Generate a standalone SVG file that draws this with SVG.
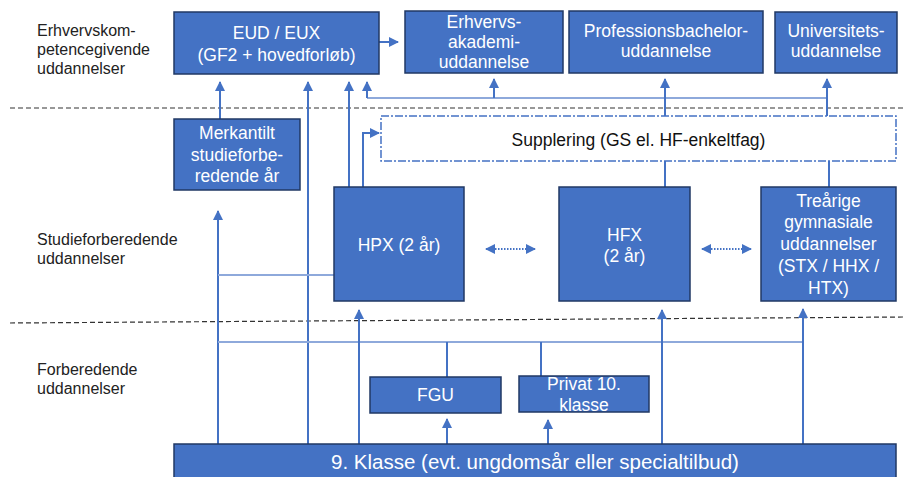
<svg xmlns="http://www.w3.org/2000/svg" width="904" height="477" viewBox="0 0 904 477">
<defs>
<marker id="ah" viewBox="0 0 10 10" refX="9" refY="5" markerWidth="10" markerHeight="10" markerUnits="userSpaceOnUse" orient="auto">
<path d="M0,0 L10,5 L0,10 Z" fill="#4472C4"/>
</marker>
<marker id="ahs" viewBox="0 0 10 10" refX="9" refY="5" markerWidth="10" markerHeight="10" markerUnits="userSpaceOnUse" orient="auto-start-reverse">
<path d="M0,0 L10,5 L0,10 Z" fill="#4472C4"/>
</marker>
<style>
.box{fill:#4472C4;stroke:#203864;stroke-width:1.5}
.bt{font-family:"Liberation Sans",Arial,sans-serif;font-size:17.5px;fill:#fff;text-anchor:middle}
.lbl{font-family:"Liberation Sans",Arial,sans-serif;font-size:16px;fill:#222}
.sep{stroke:#333;stroke-width:1.2;stroke-dasharray:5 3;fill:none}
.ln{stroke:#4472C4;stroke-width:2;fill:none}
.lt{stroke:#8EA9DB;stroke-width:2;fill:none}
.arr{stroke:#4472C4;stroke-width:2;fill:none;marker-end:url(#ah)}
.dbl{stroke:#4472C4;stroke-width:2;stroke-dasharray:1.5 1.5;fill:none;marker-start:url(#ahs);marker-end:url(#ahs)}
</style>
</defs>
<rect width="904" height="477" fill="#fff"/>

<g id="separators">
<line class="sep" x1="10" y1="108" x2="904" y2="108"/>
<line class="sep" x1="10" y1="323" x2="904" y2="317"/>
</g>

<g id="labels">
<text class="lbl" x="37" y="36">Erhvervskom-</text>
<text class="lbl" x="37" y="55">petencegivende</text>
<text class="lbl" x="37" y="74">uddannelser</text>
<text class="lbl" x="37" y="245">Studieforberedende</text>
<text class="lbl" x="37" y="264">uddannelser</text>
<text class="lbl" x="37" y="375">Forberedende</text>
<text class="lbl" x="37" y="394">uddannelser</text>
</g>

<g id="connectors">
<line class="arr" x1="379" y1="42" x2="398" y2="42"/>
<line class="arr" x1="220" y1="119" x2="220" y2="82"/>
<line class="arr" x1="308" y1="444" x2="308" y2="82"/>
<line class="arr" x1="349" y1="187" x2="349" y2="82"/>
<polyline class="lt" points="367,98 827,98"/>
<line class="arr" x1="367" y1="98" x2="367" y2="82"/>
<line class="arr" x1="494" y1="98" x2="494" y2="79"/>
<line class="arr" x1="665" y1="116" x2="665" y2="79"/>
<line class="arr" x1="827" y1="116" x2="827" y2="79"/>
<polyline class="arr" points="363,187 363,133 379,133"/>
<line class="ln" x1="665" y1="187" x2="665" y2="161"/>
<line class="ln" x1="829" y1="187" x2="829" y2="161"/>
<line class="dbl" x1="486" y1="249" x2="535" y2="249"/>
<line class="dbl" x1="702" y1="249" x2="751" y2="249"/>
<line class="arr" x1="218" y1="444" x2="218" y2="211"/>
<line class="lt" x1="218" y1="275" x2="334" y2="275"/>
<line class="lt" x1="218" y1="342" x2="803" y2="342"/>
<line class="ln" x1="447" y1="377" x2="447" y2="342"/>
<line class="ln" x1="541" y1="376" x2="541" y2="342"/>
<line class="arr" x1="803" y1="444" x2="803" y2="309"/>
<line class="arr" x1="359" y1="444" x2="359" y2="310"/>
<line class="arr" x1="662" y1="444" x2="662" y2="310"/>
<line class="arr" x1="447" y1="444" x2="447" y2="419"/>
<line class="arr" x1="548" y1="444" x2="548" y2="420"/>
</g>

<g id="eud">
<rect class="box" x="174" y="12" width="205" height="62"/>
<text class="bt" x="276.5" y="39">EUD / EUX</text>
<text class="bt" x="276.5" y="61">(GF2 + hovedforløb)</text>
</g>

<g id="erhvervsakademi">
<rect class="box" x="405" y="11" width="158" height="62"/>
<text class="bt" x="484" y="28">Erhvervs-</text>
<text class="bt" x="484" y="48">akademi-</text>
<text class="bt" x="484" y="68">uddannelse</text>
</g>

<g id="professionsbachelor">
<rect class="box" x="569" y="11" width="194" height="62"/>
<text class="bt" x="666" y="37">Professionsbachelor-</text>
<text class="bt" x="666" y="57">uddannelse</text>
</g>

<g id="universitet">
<rect class="box" x="775" y="12" width="122" height="61"/>
<text class="bt" x="836" y="37">Universitets-</text>
<text class="bt" x="836" y="57">uddannelse</text>
</g>

<g id="merkantilt">
<rect class="box" x="174" y="119" width="126" height="71"/>
<text class="bt" x="237" y="139">Merkantilt</text>
<text class="bt" x="237" y="161">studieforbe-</text>
<text class="bt" x="237" y="182">redende år</text>
</g>

<g id="supplering">
<rect x="381" y="116" width="515" height="45" fill="#fff" stroke="#4472C4" stroke-width="1.5" stroke-dasharray="8 2 2 2"/>
<text x="638.5" y="146" font-family="'Liberation Sans',Arial,sans-serif" font-size="17.5px" fill="#111" text-anchor="middle">Supplering (GS el. HF-enkeltfag)</text>
</g>

<g id="hpx">
<rect class="box" x="334" y="187" width="130" height="114"/>
<text class="bt" x="399" y="251">HPX (2 år)</text>
</g>

<g id="hfx">
<rect class="box" x="559" y="187" width="131" height="114"/>
<text class="bt" x="624.5" y="241">HFX</text>
<text class="bt" x="624.5" y="262">(2 år)</text>
</g>

<g id="gymnasiale">
<rect class="box" x="761" y="187" width="135" height="114"/>
<text class="bt" x="828.5" y="207">Treårige</text>
<text class="bt" x="828.5" y="228">gymnasiale</text>
<text class="bt" x="828.5" y="250">uddannelser</text>
<text class="bt" x="828.5" y="272">(STX / HHX /</text>
<text class="bt" x="828.5" y="294">HTX)</text>
</g>

<g id="fgu">
<rect class="box" x="370" y="377" width="131" height="36"/>
<text class="bt" x="435.5" y="401">FGU</text>
</g>

<g id="privat10">
<rect class="box" x="519" y="376" width="130" height="36"/>
<text class="bt" x="584" y="390">Privat 10.</text>
<text class="bt" x="584" y="411">klasse</text>
</g>

<g id="klasse9">
<rect class="box" x="174" y="444" width="722" height="40"/>
<text class="bt" x="535" y="469" style="font-size:20.5px">9. Klasse (evt. ungdomsår eller specialtilbud)</text>
</g>
</svg>
